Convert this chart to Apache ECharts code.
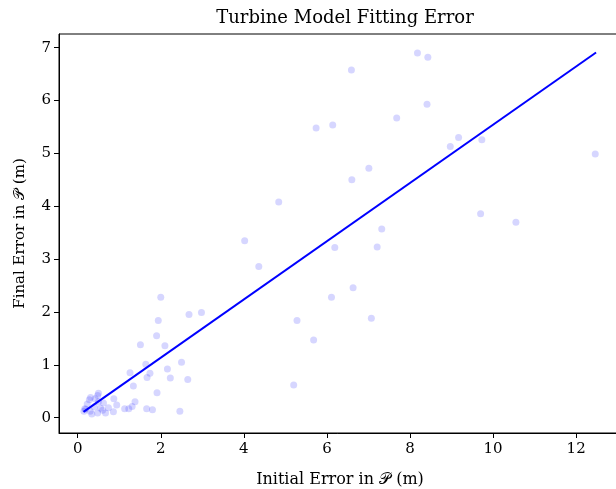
<!DOCTYPE html>
<html>
<head>
<meta charset="utf-8">
<script src="https://cdn.jsdelivr.net/npm/echarts@6/dist/echarts.min.js"></script>
<style>
  html, body { margin: 0; padding: 0; background: #fff; }
  #main { width: 616px; height: 489px; }
</style>
</head>
<body>
<div id="main"></div>
<script>
// scatter: initial error vs final error (m)
var initialError = [
  8.18, 8.43, 6.59, 8.41, 5.74, 6.14, 7.68, 9.17, 8.97, 9.73,
  12.46, 7.01, 6.60, 4.84, 4.02, 7.32, 6.19, 7.21, 4.36, 9.70,
  10.55, 6.63, 6.11, 2.00, 5.28, 7.07, 5.68, 5.20,
  2.68, 2.98, 1.94, 1.90, 1.51, 2.10, 1.64, 2.50, 1.26, 1.74,
  1.67, 2.16, 2.23, 2.65, 1.34, 1.91, 0.87, 1.38, 1.31, 1.23,
  1.13, 1.66, 1.80, 2.46, 0.94, 0.86,
  0.50, 0.31, 0.42, 0.48, 0.28, 0.50, 0.23, 0.19, 0.17, 0.15,
  0.34, 0.48, 0.55, 0.67, 0.74, 0.60, 0.40, 0.30, 0.62
];
var finalError = [
  6.90, 6.82, 6.58, 5.93, 5.48, 5.54, 5.67, 5.30, 5.13, 5.26,
  4.99, 4.72, 4.50, 4.08, 3.35, 3.57, 3.22, 3.23, 2.86, 3.86,
  3.70, 2.46, 2.28, 2.28, 1.84, 1.88, 1.47, 0.62,
  1.95, 1.99, 1.84, 1.55, 1.38, 1.36, 1.01, 1.05, 0.85, 0.84,
  0.76, 0.92, 0.75, 0.72, 0.60, 0.47, 0.36, 0.30, 0.21, 0.17,
  0.17, 0.17, 0.15, 0.12, 0.24, 0.11,
  0.46, 0.38, 0.36, 0.42, 0.34, 0.30, 0.26, 0.16, 0.17, 0.12,
  0.07, 0.09, 0.18, 0.09, 0.19, 0.14, 0.20, 0.12, 0.28
];
// fitted line endpoints
var fitX = [0.14, 12.48];
var fitY = [0.11, 6.91];
var xTicks = [0, 2, 4, 6, 8, 10, 12];
var yTicks = [0, 1, 2, 3, 4, 5, 6, 7];

var FONT = '"DejaVu Serif", "Liberation Serif", serif';

var points = [];
for (var i = 0; i < initialError.length; i++) {
  points.push([initialError[i], finalError[i]]);
}
var fitLine = [];
for (var j = 0; j < fitX.length; j++) {
  fitLine.push([fitX[j], fitY[j]]);
}

var myChart = echarts.init(document.getElementById('main'));
var option = {
  animation: false,
  title: {
    text: 'Turbine Model Fitting Error',
    left: 340,
    textAlign: 'center',
    top: 4,
    textStyle: { fontFamily: FONT, fontSize: 18, fontWeight: 'normal', color: '#000' }
  },
  grid: {
    left: 59, top: 34, bottom: 56, right: -5,
    outerBoundsMode: 'none',
    show: true, borderColor: '#000', borderWidth: 1
  },
  xAxis: {
    type: 'value',
    min: -0.45,
    max: 13.08,
    name: 'Initial Error in 𝒫 (m)',
    nameLocation: 'middle',
    nameGap: 39,
    nameTextStyle: { fontFamily: FONT, fontSize: 16, color: '#000' },
    splitLine: { show: false },
    axisLine: { show: true, onZero: false, lineStyle: { color: '#000', width: 1 } },
    axisTick: { show: true, length: 5, customValues: xTicks, lineStyle: { color: '#000' } },
    axisLabel: { customValues: xTicks, margin: 9, fontFamily: FONT, fontSize: 15, color: '#000' }
  },
  yAxis: {
    type: 'value',
    min: -0.29,
    max: 7.26,
    name: 'Final Error in 𝒫 (m)',
    nameLocation: 'middle',
    nameGap: 31,
    nameTextStyle: { fontFamily: FONT, fontSize: 15, color: '#000' },
    splitLine: { show: false },
    axisLine: { show: true, onZero: false, lineStyle: { color: '#000', width: 1 } },
    axisTick: { show: true, length: 5, customValues: yTicks, lineStyle: { color: '#000' } },
    axisLabel: { customValues: yTicks, margin: 8, fontFamily: FONT, fontSize: 15, color: '#000' }
  },
  series: [
    {
      type: 'scatter',
      data: points,
      symbolSize: 7,
      itemStyle: { color: 'rgba(0,0,255,0.2)' }
    },
    {
      type: 'line',
      data: fitLine,
      symbol: 'none',
      lineStyle: { color: '#0000ff', width: 2 }
    }
  ]
};
myChart.setOption(option);
</script>
</body>
</html>
